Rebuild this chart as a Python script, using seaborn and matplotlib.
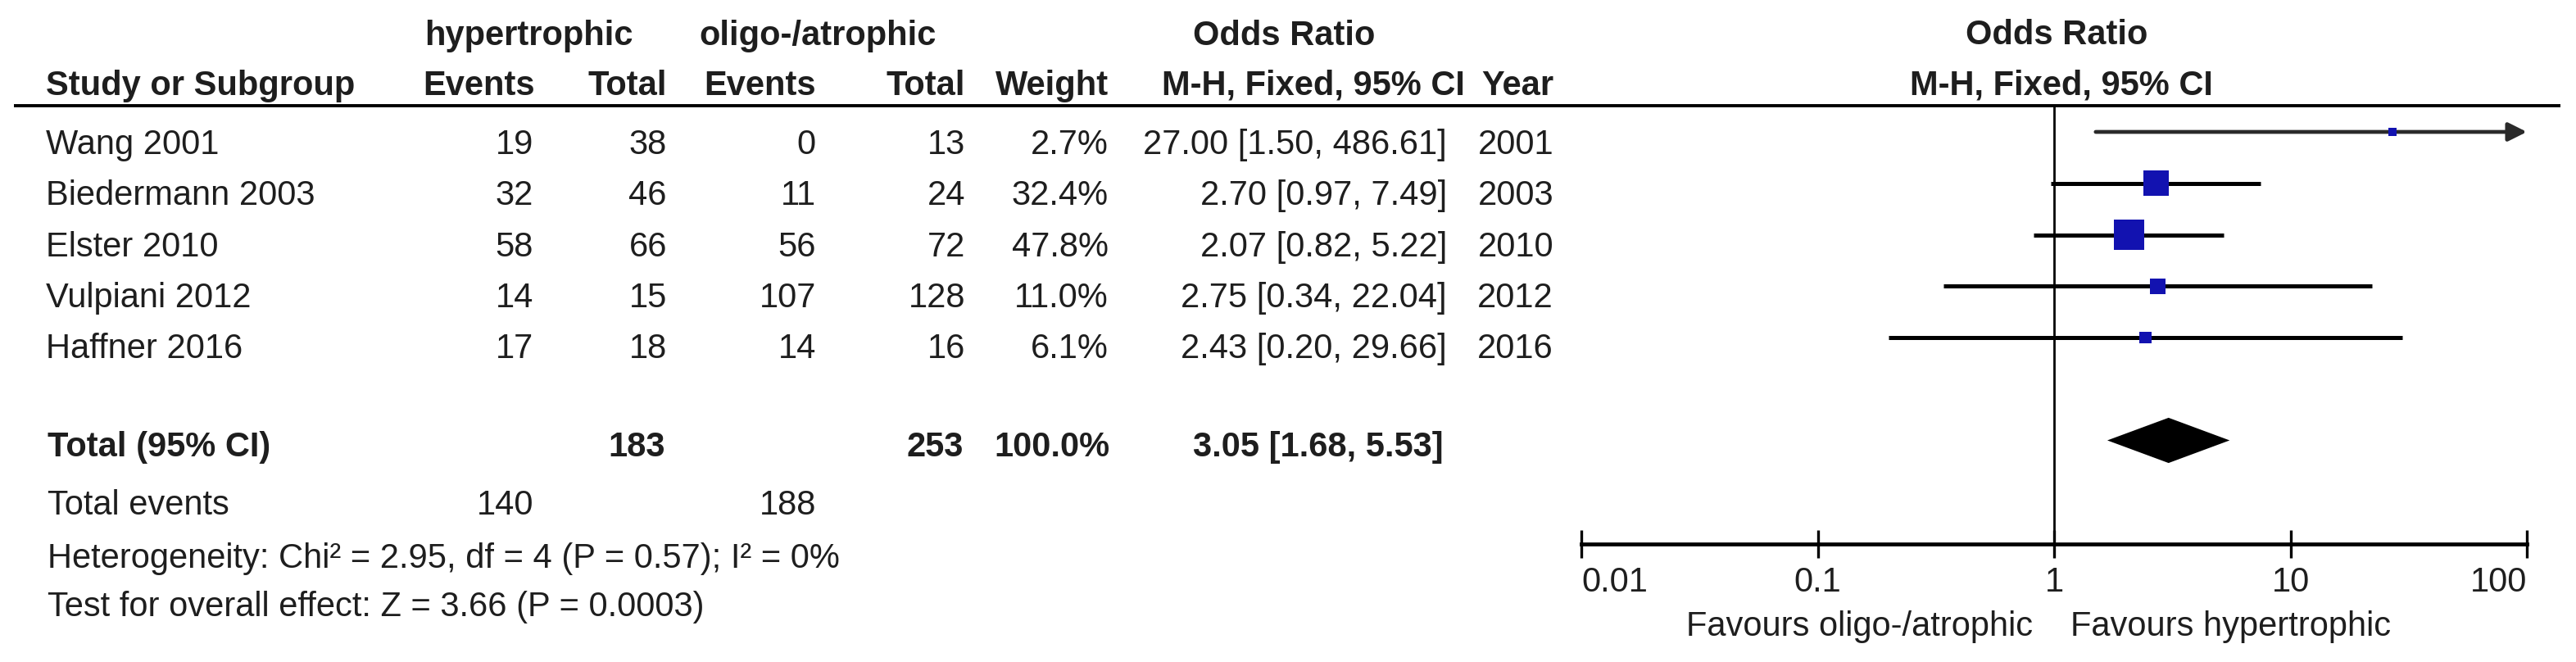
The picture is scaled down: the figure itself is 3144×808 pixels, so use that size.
import numpy as np
import pandas as pd
import matplotlib
matplotlib.use("Agg")
import matplotlib.pyplot as plt
import seaborn as sns

# study data
studies = ["Wang 2001", "Biedermann 2003", "Elster 2010", "Vulpiani 2012", "Haffner 2016"]
hyp_events = [19, 32, 58, 14, 17]
hyp_total = [38, 46, 66, 15, 18]
oli_events = [0, 11, 56, 107, 14]
oli_total = [13, 24, 72, 128, 16]
weights = [2.7, 32.4, 47.8, 11.0, 6.1]
odds = [27.00, 2.70, 2.07, 2.75, 2.43]
ci_low = [1.50, 0.97, 0.82, 0.34, 0.20]
ci_high = [486.61, 7.49, 5.22, 22.04, 29.66]
years = [2001, 2003, 2010, 2012, 2016]

total_or = 3.05
total_low = 1.68
total_high = 5.53
chi2, df, p_het, i2 = 2.95, 4, 0.57, 0
z_val, p_val = 3.66, 0.0003

xticks = [0.01, 0.1, 1, 10, 100]
xtick_labels = ["0.01", "0.1", "1", "10", "100"]

df_studies = pd.DataFrame({
    "study": studies, "odds": odds, "low": ci_low, "high": ci_high,
    "weight": weights, "row": np.arange(len(studies)),
})

sns.set_theme(style="white")
plt.rcParams["font.family"] = ["Liberation Sans", "DejaVu Sans"]

TXT = "#1e1e1e"
BLUE = "#1212b0"
FS = 30

W, H = 3144, 808
fig = plt.figure(figsize=(W / 100, H / 100), dpi=100)

# text layer in pixel coordinates
ax_t = fig.add_axes([0, 0, 1, 1], zorder=0)
ax_t.set_xlim(0, W)
ax_t.set_ylim(H, 0)
ax_t.axis("off")


def put(x, y, s, ha="left", bold=False):
    ax_t.text(x, y, s, ha=ha, va="baseline", fontsize=FS, color=TXT,
              fontweight="bold" if bold else "normal")


# headers
put(518, 55, "hypertrophic", bold=True)
put(853, 55, "oligo-/atrophic", bold=True)
put(1567, 55, "Odds Ratio", ha="center", bold=True)
put(2510, 54, "Odds Ratio", ha="center", bold=True)
put(56, 116, "Study or Subgroup", bold=True)
put(653, 116, "Events", ha="right", bold=True)
put(814, 116, "Total", ha="right", bold=True)
put(996, 116, "Events", ha="right", bold=True)
put(1178, 116, "Total", ha="right", bold=True)
put(1353, 116, "Weight", ha="right", bold=True)
put(1788, 116, "M-H, Fixed, 95% CI", ha="right", bold=True)
put(1896, 116, "Year", ha="right", bold=True)
put(2516, 116, "M-H, Fixed, 95% CI", ha="center", bold=True)
ax_t.hlines(129, 17, 3125, color="black", lw=2.8)

# study rows
for i in range(len(studies)):
    yb = 188 + 62.3 * i
    put(56, yb, studies[i])
    put(651, yb, str(hyp_events[i]), ha="right")
    put(814, yb, str(hyp_total[i]), ha="right")
    put(996, yb, str(oli_events[i]), ha="right")
    put(1178, yb, str(oli_total[i]), ha="right")
    put(1353, yb, f"{weights[i]:.1f}%", ha="right")
    put(1766, yb, f"{odds[i]:.2f} [{ci_low[i]:.2f}, {ci_high[i]:.2f}]", ha="right")
    put(1896, yb, str(years[i]), ha="right")

# totals
put(58, 557, "Total (95% CI)", bold=True)
put(812, 557, str(sum(hyp_total)), ha="right", bold=True)
put(1176, 557, str(sum(oli_total)), ha="right", bold=True)
put(1355, 557, f"{sum(weights):.1f}%", ha="right", bold=True)
put(1762, 557, f"{total_or:.2f} [{total_low:.2f}, {total_high:.2f}]", ha="right", bold=True)
put(58, 628, "Total events")
put(651, 628, str(sum(hyp_events)), ha="right")
put(996, 628, str(sum(oli_events)), ha="right")
put(58, 693, f"Heterogeneity: Chi\u00b2 = {chi2:.2f}, df = {df} (P = {p_het:.2f}); I\u00b2 = {i2}%")
put(58, 752, f"Test for overall effect: Z = {z_val:.2f} (P = {p_val:.4f})")
put(2481, 776, "Favours oligo-/atrophic", ha="right")
put(2527, 776, "Favours hypertrophic")

# forest plot axes
left, right_px, top_px, bot_px = 1930, 3084, 129, 664
ax = fig.add_axes([left / W, 1 - bot_px / H, (right_px - left) / W, (bot_px - top_px) / H],
                  zorder=1)
ax.patch.set_alpha(0)
ax.set_xscale("log")
xmin, xmax = xticks[0], xticks[-1]
ax.set_xlim(xmin, xmax)
ax.set_ylim(8.016, -0.51)

ax.axvline(1, color="black", lw=2.0, zorder=1)

for _, r in df_studies.iterrows():
    if r["high"] > xmax:
        ax.annotate("", xy=(xmax, r["row"]), xytext=(r["low"], r["row"]),
                    arrowprops=dict(arrowstyle="-|>", color="#2a2a2a", lw=3.4,
                                    mutation_scale=34, shrinkA=0, shrinkB=0),
                    zorder=2, annotation_clip=False)
    else:
        ax.hlines(r["row"], r["low"], r["high"], color="black", lw=3.6, zorder=2)

sns.scatterplot(data=df_studies, x="odds", y="row", size="weight", sizes=(60, 720),
                marker="s", color=BLUE, linewidth=0, legend=False, ax=ax, zorder=3)

# pooled diamond
total_row = len(studies) + 1
half_h = 0.44
ax.fill([total_low, total_or, total_high, total_or],
        [total_row, total_row - half_h, total_row, total_row + half_h],
        color="black", lw=0, zorder=3)

ax.set_xlabel("")
ax.set_ylabel("")
ax.set_yticks([])
ax.xaxis.set_minor_locator(matplotlib.ticker.NullLocator())
ax.set_xticks(xticks)
ax.set_xticklabels(xtick_labels)
ax.tick_params(axis="x", direction="inout", length=25, width=2.4, color="black",
               pad=7, labelsize=FS, labelcolor=TXT, bottom=True)
labels = ax.get_xticklabels()
labels[0].set_ha("left")
labels[-1].set_ha("right")
for side in ["left", "top", "right"]:
    ax.spines[side].set_visible(False)
ax.spines["bottom"].set_linewidth(3.4)
ax.spines["bottom"].set_color("black")
ax.grid(False)

fig.savefig("out.png", dpi=100, facecolor="white")
